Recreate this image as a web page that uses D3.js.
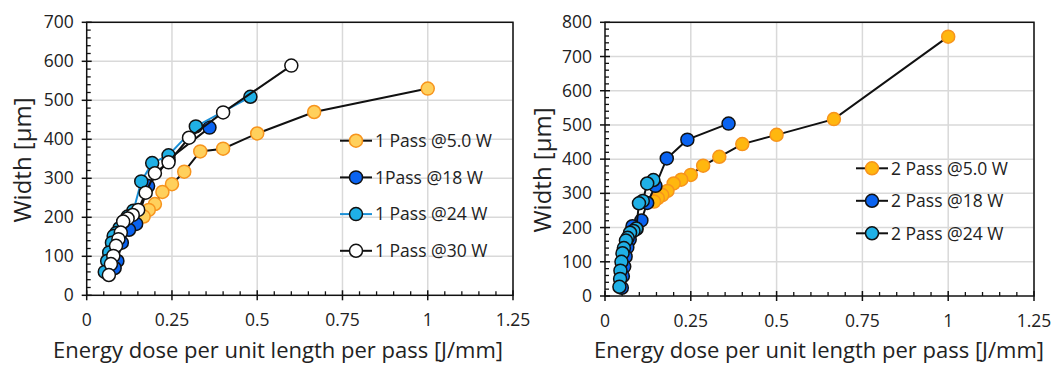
<!DOCTYPE html>
<html>
<head>
<meta charset="utf-8">
<script src="https://cdn.jsdelivr.net/npm/d3@7"></script>
<style>
  html, body { margin: 0; padding: 0; background: #fff; }
  svg { display: block; }
  text { font-family: "Open Sans", "Noto Sans", sans-serif; fill: #222; }
</style>
</head>
<body>
<svg id="chart" width="1052" height="365"></svg>
<script>
// ---- Single-pass widths [µm] vs energy dose per unit length [J/mm] ----
const onePass5W = [
  [1.0, 530], [0.667, 470], [0.5, 415], [0.4, 376], [0.333, 369], [0.286, 317],
  [0.25, 285], [0.222, 265], [0.2, 234], [0.182, 219], [0.167, 202]
];
const onePass18W = [
  [0.36, 430], [0.24, 348], [0.18, 280], [0.145, 183], [0.124, 168],
  [0.103, 135], [0.09, 88], [0.082, 70]
];
const onePass24W = [
  [0.48, 509], [0.32, 433], [0.24, 359], [0.192, 339], [0.16, 292], [0.137, 217],
  [0.12, 202], [0.107, 188], [0.096, 172], [0.087, 160], [0.079, 152], [0.074, 135],
  [0.066, 110], [0.06, 88], [0.053, 60]
];
const onePass30W = [
  [0.6, 589], [0.4, 469], [0.3, 404], [0.24, 341], [0.2, 313], [0.173, 263],
  [0.151, 219], [0.135, 206], [0.12, 197], [0.107, 189], [0.1, 161], [0.093, 144],
  [0.086, 127], [0.078, 101], [0.071, 80], [0.065, 52]
];

// ---- Double-pass widths ----
const twoPass5W = [
  [1.0, 758], [0.667, 517], [0.5, 471], [0.4, 444], [0.333, 407], [0.286, 381],
  [0.25, 354], [0.222, 340], [0.2, 329], [0.182, 307], [0.167, 295], [0.154, 286],
  [0.143, 276]
];
const twoPass18W = [
  [0.36, 504], [0.24, 457], [0.18, 402], [0.147, 322], [0.123, 272], [0.106, 221],
  [0.092, 196], [0.08, 204], [0.072, 165], [0.065, 142], [0.06, 115], [0.056, 86],
  [0.052, 58], [0.049, 24]
];
const twoPass24W = [
  [0.141, 339], [0.123, 329], [0.11, 278], [0.099, 271], [0.091, 197], [0.083, 190],
  [0.073, 185], [0.066, 170], [0.061, 162], [0.055, 140], [0.051, 125], [0.048, 100],
  [0.045, 74], [0.044, 50], [0.042, 27]
];

// ---- Axis ticks and labels ----
const xTicks = [0, 0.25, 0.5, 0.75, 1, 1.25];
const xTickLabels = ["0", "0.25", "0.5", "0.75", "1", "1.25"];
const yTicksLeft = [0, 100, 200, 300, 400, 500, 600, 700];
const yTicksRight = [0, 100, 200, 300, 400, 500, 600, 700, 800];
const xTitle = "Energy dose per unit length per pass [J/mm]";
const yTitle = "Width [µm]";

const legendLeft = ["1 Pass @5.0 W", "1Pass @18 W", "1 Pass @24 W", "1 Pass @30 W"];
const legendRight = ["2 Pass @5.0 W", "2 Pass @18 W", "2 Pass @24 W"];

const svg = d3.select("#chart");

function drawPanel(cfg) {
  const g = svg.append("g");
  const x = d3.scaleLinear().domain([0, 1.25]).range([cfg.left, cfg.right]);
  const y = d3.scaleLinear().domain([0, cfg.yMax]).range([cfg.bottom, cfg.top]);

  // gridlines
  g.append("g").selectAll("line").data(xTicks.slice(1)).join("line")
    .attr("x1", d => x(d)).attr("x2", d => x(d))
    .attr("y1", cfg.top).attr("y2", cfg.bottom)
    .attr("stroke", "#d9d9d9").attr("stroke-width", 1.5);
  g.append("g").selectAll("line").data(cfg.yTicks.slice(1)).join("line")
    .attr("x1", cfg.left).attr("x2", cfg.right)
    .attr("y1", d => y(d)).attr("y2", d => y(d))
    .attr("stroke", "#d9d9d9").attr("stroke-width", 1.5);

  // frame
  g.append("rect")
    .attr("x", cfg.left).attr("y", cfg.top)
    .attr("width", cfg.right - cfg.left).attr("height", cfg.bottom - cfg.top)
    .attr("fill", "none").attr("stroke", "#111").attr("stroke-width", 1.5);

  // minor ticks (inside)
  const xMinor = d3.range(0.05, 1.25, 0.05).filter(v => Math.abs(v / 0.25 - Math.round(v / 0.25)) > 1e-6);
  g.append("g").selectAll("line").data(xMinor).join("line")
    .attr("x1", d => x(d)).attr("x2", d => x(d))
    .attr("y1", cfg.bottom).attr("y2", cfg.bottom - 4)
    .attr("stroke", "#111").attr("stroke-width", 1.3);
  const yMinor = d3.range(20, cfg.yMax, 20).filter(v => v % 100 !== 0);
  g.append("g").selectAll("line").data(yMinor).join("line")
    .attr("x1", cfg.left).attr("x2", cfg.left + 4)
    .attr("y1", d => y(d)).attr("y2", d => y(d))
    .attr("stroke", "#111").attr("stroke-width", 1.3);

  // major ticks (cross)
  g.append("g").selectAll("line").data(xTicks).join("line")
    .attr("x1", d => x(d)).attr("x2", d => x(d))
    .attr("y1", cfg.bottom - 5).attr("y2", cfg.bottom + 5)
    .attr("stroke", "#111").attr("stroke-width", 1.5);
  g.append("g").selectAll("line").data(cfg.yTicks).join("line")
    .attr("x1", cfg.left - 5).attr("x2", cfg.left + 5)
    .attr("y1", d => y(d)).attr("y2", d => y(d))
    .attr("stroke", "#111").attr("stroke-width", 1.5);

  // tick labels
  g.append("g").selectAll("text").data(xTicks).join("text")
    .attr("x", d => x(d)).attr("y", cfg.bottom + 31)
    .attr("text-anchor", "middle").attr("font-size", 17.5)
    .text((d, i) => xTickLabels[i]);
  g.append("g").selectAll("text").data(cfg.yTicks).join("text")
    .attr("x", cfg.left - 13).attr("y", d => y(d)).attr("dy", "0.35em")
    .attr("text-anchor", "end").attr("font-size", 17.5)
    .text(d => d);

  // axis titles
  g.append("text")
    .attr("x", cfg.xTitleX).attr("y", 357.5)
    .attr("text-anchor", "middle").attr("font-size", 22)
    .text(xTitle);
  g.append("text")
    .attr("transform", `translate(${cfg.yTitleX},${cfg.yTitleY}) rotate(-90)`)
    .attr("text-anchor", "middle").attr("font-size", 24)
    .text(yTitle);

  // series
  const line = d3.line().x(d => x(d[0])).y(d => y(d[1]));
  cfg.series.forEach(s => {
    g.append("path").datum(s.data)
      .attr("d", line).attr("fill", "none")
      .attr("stroke", s.lineColor).attr("stroke-width", 2);
    g.append("g").selectAll("circle").data(s.data).join("circle")
      .attr("cx", d => x(d[0])).attr("cy", d => y(d[1])).attr("r", 6.5)
      .attr("fill", s.fill).attr("stroke", s.stroke).attr("stroke-width", 1.5);
  });

  // legend
  const lg = g.append("g");
  cfg.series.forEach((s, i) => {
    const ly = cfg.legendY + i * cfg.legendGap;
    lg.append("line")
      .attr("x1", cfg.legendX).attr("x2", cfg.legendX + 32)
      .attr("y1", ly).attr("y2", ly)
      .attr("stroke", s.lineColor).attr("stroke-width", 2);
    lg.append("circle")
      .attr("cx", cfg.legendX + 16).attr("cy", ly).attr("r", 6.5)
      .attr("fill", s.fill).attr("stroke", s.stroke).attr("stroke-width", 1.5);
    lg.append("text")
      .attr("x", cfg.legendX + 35).attr("y", ly).attr("dy", "0.36em")
      .attr("font-size", 17.5)
      .text(s.name);
  });
}

drawPanel({
  left: 86.7, right: 513, top: 22.3, bottom: 295.3, yMax: 700,
  yTicks: yTicksLeft, yTitleX: 31, yTitleY: 160, xTitleX: 278,
  legendX: 340, legendY: 140.7, legendGap: 36.7,
  series: [
    { name: legendLeft[0], data: onePass5W, fill: "#ffd05c", stroke: "#f7941d", lineColor: "#111" },
    { name: legendLeft[1], data: onePass18W, fill: "#0a63f0", stroke: "#111", lineColor: "#111" },
    { name: legendLeft[2], data: onePass24W, fill: "#1fb0e6", stroke: "#111", lineColor: "#1a8fd6" },
    { name: legendLeft[3], data: onePass30W, fill: "#ffffff", stroke: "#111", lineColor: "#111" }
  ]
});

drawPanel({
  left: 605, right: 1034, top: 22.3, bottom: 296, yMax: 800,
  yTicks: yTicksRight, yTitleX: 551, yTitleY: 170, xTitleX: 819,
  legendX: 856, legendY: 168.3, legendGap: 32.5,
  series: [
    { name: legendRight[0], data: twoPass5W, fill: "#ffb70f", stroke: "#f7941d", lineColor: "#111" },
    { name: legendRight[1], data: twoPass18W, fill: "#0a63f0", stroke: "#111", lineColor: "#111" },
    { name: legendRight[2], data: twoPass24W, fill: "#1fb0e6", stroke: "#111", lineColor: "#111" }
  ]
});
</script>
</body>
</html>
